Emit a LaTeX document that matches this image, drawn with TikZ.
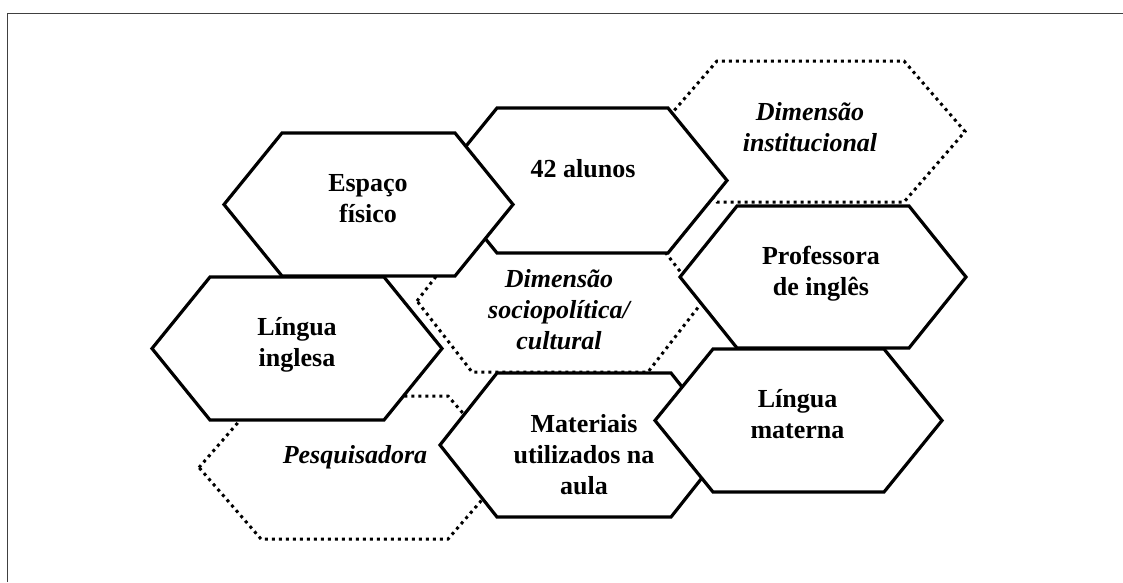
\documentclass[tikz,border=0pt]{standalone}
\usepackage{fontspec}
\setmainfont{Liberation Serif}
\usepackage{tikz}

% hexagono: [estilo]{cx}{cy}{meia largura}{inclinacao}{meia altura}
\newcommand{\hexagono}[6][]{%
  \draw[#1] (#2,#3) ++(-#4,0) -- ++(#5,-#6) -- ++({2*(#4-#5)},0)
    -- ++(#5,#6) -- ++(-#5,#6) -- ++({-2*(#4-#5)},0) -- cycle;}

\tikzset{
  hexa/.style={draw=black, fill=white, line width=3.2pt, line join=miter},
  hexapont/.style={draw=black, fill=white, line width=3pt, dash pattern=on 3pt off 4pt},
  rotulo/.style={align=center, inner sep=0pt, anchor=north,
    font=\fontsize{26}{31}\selectfont\bfseries,
    execute at begin node={\rule{0pt}{26pt}}},
  rotuloit/.style={rotulo, font=\fontsize{26}{31}\selectfont\bfseries\itshape},
  moldura/.style={draw=black!75, line width=1pt}
}

\begin{document}
\begin{tikzpicture}[x=1pt, y=-1pt]
	\useasboundingbox (0,0) rectangle (1123,582);
	\draw[moldura] (7.5,582) -- (7.5,13.5) -- (1123,13.5);

	% dimensoes (pontilhadas)
	\hexagono[hexapont]{810.5}{131.5}{154.5}{61}{70.5}
	\hexagono[hexapont]{560}{301}{143}{55}{71}
	\hexagono[hexapont]{354.5}{467.5}{155.5}{62}{71.5}

	% elementos
	\hexagono[hexa]{582.5}{180.5}{144.5}{59}{72.5}
	\hexagono[hexa]{368.5}{204.5}{144.5}{58}{71.5}
	\hexagono[hexa]{297}{348.5}{145}{58}{71.5}
	\hexagono[hexa]{823}{277}{143}{57}{71}
	\hexagono[hexa]{584}{445}{144}{57}{72}
	\hexagono[hexa]{798.5}{420.5}{143.5}{58}{71.5}

	\node[rotuloit] (institucional) at (810, 102)   {Dimensão\\institucional};
	\node[rotuloit] (socio)         at (559, 269)   {Dimensão\\sociopolítica/\\cultural};
	\node[rotuloit] (pesquisadora)  at (355, 437)   {Pesquisadora};
	\node[rotulo]   (alunos)        at (583, 151)   {42 alunos};
	\node[rotulo]   (espaco)        at (368, 174)   {Espaço\\físico};
	\node[rotulo]   (inglesa)       at (297, 317)   {Língua\\inglesa};
	\node[rotulo]   (professora)    at (821, 246)   {Professora\\de inglês};
	\node[rotulo]   (materiais)     at (584, 414)   {Materiais\\utilizados na\\aula};
	\node[rotulo]   (materna)       at (797.5, 389) {Língua\\materna};
\end{tikzpicture}
\end{document}
